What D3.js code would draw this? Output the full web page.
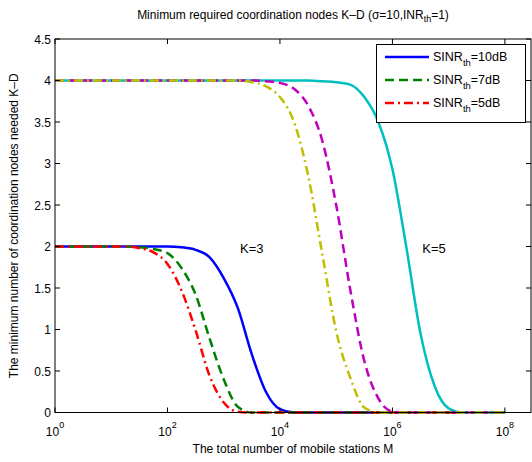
<!DOCTYPE html>
<html><head><meta charset="utf-8">
<script src="https://cdn.jsdelivr.net/npm/d3@7"></script>
<style>
body{margin:0;background:#fff;}
svg{display:block;font-family:"Liberation Sans",Arial,Helvetica,sans-serif;}
</style></head>
<body><svg id="c" width="532" height="462"></svg>
<script>
// log10(M) grid
const exps = [0,0.25,0.5,0.75,1,1.25,1.5,1.75,2,2.25,2.5,2.75,3,3.25,3.5,3.75,4,4.25,4.5,4.75,5,5.25,5.5,5.75,6,6.25,6.5,6.75,7,7.25,7.5,7.75,8];
// K=3
const k3_10dB = [2,2,2,2,2,2,2,2,2,1.99,1.96,1.87,1.62,1.26,0.70,0.25,0.04,0,0,0,0,0,0,0,0,0,0,0,0,0,0,0,0];
const k3_7dB  = [2,2,2,2,2,2,1.99,1.97,1.92,1.74,1.42,0.89,0.40,0.07,0,0,0,0,0,0,0,0,0,0,0,0,0,0,0,0,0,0,0];
const k3_5dB  = [2,2,2,2,2,2,1.98,1.93,1.79,1.47,0.99,0.44,0.12,0.01,0,0,0,0,0,0,0,0,0,0,0,0,0,0,0,0,0,0,0];
// K=5
const k5_10dB = [4,4,4,4,4,4,4,4,4,4,4,4,4,4,4,4,4,4,4,3.99,3.98,3.95,3.80,3.50,2.93,1.98,0.95,0.32,0.05,0,0,0,0];
const k5_7dB  = [4,4,4,4,4,4,4,4,4,4,4,4,4,4,4,3.99,3.97,3.90,3.70,3.28,2.50,1.48,0.62,0.17,0.01,0,0,0,0,0,0,0,0];
const k5_5dB  = [4,4,4,4,4,4,4,4,4,4,4,4,4,4,3.98,3.93,3.80,3.50,2.86,1.92,0.98,0.42,0.06,0,0,0,0,0,0,0,0,0,0];

const xTickExps = [0,2,4,6,8];
const yTicks = [0,0.5,1,1.5,2,2.5,3,3.5,4,4.5];
const legendLabels = ["10dB","7dB","5dB"];

const series = [
  {v:k3_10dB, color:"#0000ff", dash:null},
  {v:k3_7dB,  color:"#008000", dash:"9,5"},
  {v:k3_5dB,  color:"#ff0000", dash:"9,4,2,4"},
  {v:k5_10dB, color:"#00bfbf", dash:null},
  {v:k5_7dB,  color:"#bf00bf", dash:"9,5"},
  {v:k5_5dB,  color:"#bfbf00", dash:"9,4,2,4"}
];

const L=55, R=531, T=39, B=412.5;
const svg = d3.select("#c");
const x = d3.scaleLog().domain([1, Math.pow(10,8.464)]).range([L,R]);
const y = d3.scaleLinear().domain([0,4.5]).range([B,T]);

// title
const title = svg.append("text").attr("x",(L+R)/2).attr("y",19).attr("text-anchor","middle").attr("font-size",12);
title.append("tspan").text("Minimum required coordination nodes K\u2013D (\u03c3=10,INR");
title.append("tspan").attr("font-size",9).attr("dy",3).text("th");
title.append("tspan").attr("dy",-3).text("=1)");

// lines
const line = d3.line().x((d,i)=>x(Math.pow(10,exps[i]))).y(d=>y(d)).curve(d3.curveMonotoneX);
series.forEach(s=>{
  svg.append("path").datum(s.v).attr("d",line).attr("fill","none")
    .attr("stroke",s.color).attr("stroke-width",2.5)
    .attr("stroke-dasharray",s.dash);
});

// box
svg.append("rect").attr("x",L).attr("y",T).attr("width",R-L).attr("height",B-T)
  .attr("fill","none").attr("stroke","#000").attr("stroke-width",1);

// ticks
const tk=5;
xTickExps.forEach(e=>{
  const xx = x(Math.pow(10,e));
  svg.append("line").attr("x1",xx).attr("x2",xx).attr("y1",B).attr("y2",B-tk).attr("stroke","#000");
  svg.append("line").attr("x1",xx).attr("x2",xx).attr("y1",T).attr("y2",T+tk).attr("stroke","#000");
  const t = svg.append("text").attr("x",xx).attr("y",436).attr("text-anchor","middle").attr("font-size",12);
  t.append("tspan").text("10");
  t.append("tspan").attr("dy",-8).attr("font-size",9).text(e);
});
yTicks.forEach(v=>{
  const yy = y(v);
  svg.append("line").attr("x1",L).attr("x2",L+tk).attr("y1",yy).attr("y2",yy).attr("stroke","#000");
  svg.append("line").attr("x1",R).attr("x2",R-tk).attr("y1",yy).attr("y2",yy).attr("stroke","#000");
  svg.append("text").attr("x",L-4).attr("y",yy+4.5).attr("text-anchor","end").attr("font-size",12).text(v);
});

// axis labels
svg.append("text").attr("x",(L+R)/2).attr("y",453).attr("text-anchor","middle").attr("font-size",12)
  .text("The total number of mobile stations M");
svg.append("text").attr("transform",`translate(18,${(T+B)/2}) rotate(-90)`).attr("text-anchor","middle").attr("font-size",12)
  .text("The minimum number of coordination nodes needed K\u2013D");

// annotations
svg.append("text").attr("x",x(Math.pow(10,3.5))).attr("y",253).attr("text-anchor","middle").attr("font-size",13).text("K=3");
svg.append("text").attr("x",x(Math.pow(10,6.74))).attr("y",253).attr("text-anchor","middle").attr("font-size",13).text("K=5");

// legend
const lg = svg.append("g");
lg.append("rect").attr("x",376.5).attr("y",44.5).attr("width",149).attr("height",78)
  .attr("fill","#fff").attr("stroke","#000").attr("stroke-width",1);
legendLabels.forEach((lab,i)=>{
  const yy = 57 + i*23;
  const s = series[i];
  lg.append("line").attr("x1",385).attr("x2",429).attr("y1",yy).attr("y2",yy)
    .attr("stroke",s.color).attr("stroke-width",2.5).attr("stroke-dasharray",s.dash);
  const t = lg.append("text").attr("x",433).attr("y",yy+4).attr("font-size",12.5);
  t.append("tspan").text("SINR");
  t.append("tspan").attr("font-size",9.5).attr("dy",5).text("th");
  t.append("tspan").attr("dy",-5).text("="+lab);
});
</script></body></html>
